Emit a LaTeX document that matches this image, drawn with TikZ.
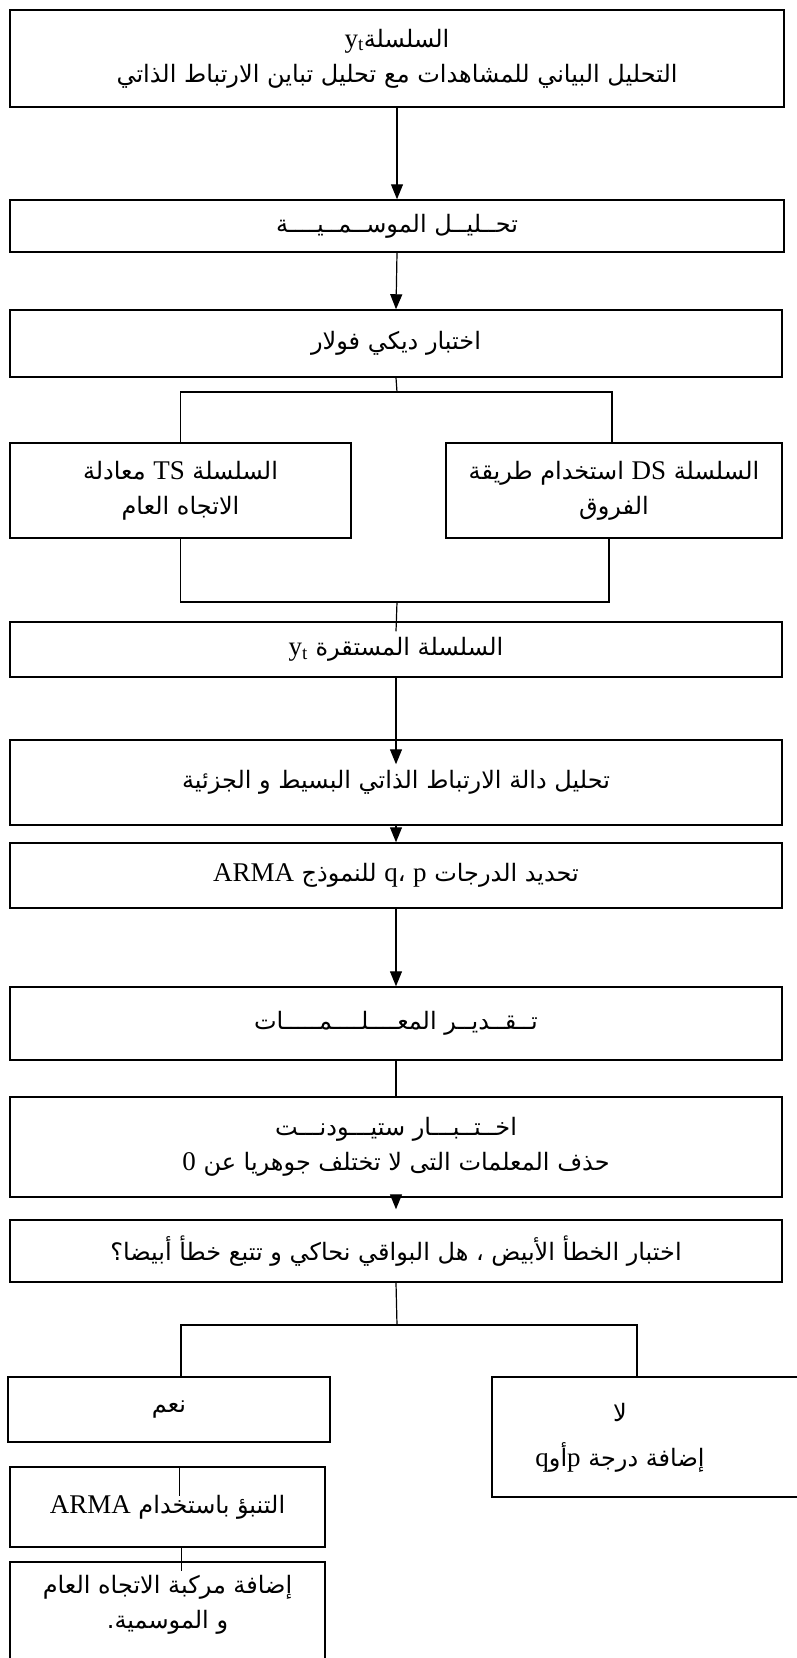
\documentclass[tikz,border=0pt]{standalone}
\usepackage{fontspec}
\setmainfont{Liberation Serif}
\newfontfamily\arabicfont[Script=Arabic]{DejaVu Sans}
\usetikzlibrary{arrows.meta}
\TeXXeTstate=1
\newcommand\ltr[1]{\beginL{\rmfamily\fontsize{27}{35}\selectfont #1}\endL}

\begin{document}
\begin{tikzpicture}[x=1pt,y=-1pt,
  box/.style={draw,line width=1.5pt,inner sep=0pt,align=center,
    font=\arabicfont\fontsize{24}{35}\selectfont},
  txt/.style={inner sep=0pt,align=center,font=\arabicfont\fontsize{24}{35}\selectfont},
  link/.style={line width=1.2pt},
  arr/.style={link,-{Triangle[length=15pt,width=12pt]}}]
  \useasboundingbox (0,0) rectangle (796,1658);
  \node[box,minimum width=774pt,minimum height=97pt] (series) at (397,58.5)
    {\beginR السلسلة\ltr{y\textsubscript{t}}\endR\\\beginR التحليل البياني للمشاهدات مع تحليل تباين الارتباط الذاتي\endR};
  \node[box,minimum width=774pt,minimum height=52pt] (season) at (397,226)
    {\beginR تحــليــل الموســمــيــــة\endR};
  \node[box,minimum width=772pt,minimum height=67pt] (dickey) at (396,343.5)
    {\beginR اختبار ديكي فولار\endR};
  \node[box,minimum width=341pt,minimum height=95pt] (ts) at (180.5,490.5)
    {\beginR السلسلة \ltr{TS} معادلة\endR\\\beginR الاتجاه العام\endR};
  \node[box,minimum width=336pt,minimum height=95pt] (ds) at (614,490.5)
    {\beginR السلسلة \ltr{DS} استخدام طريقة\endR\\\beginR الفروق\endR};
  \node[box,minimum width=772pt,minimum height=55pt] (stat) at (396,649.5)
    {\beginR السلسلة المستقرة \ltr{y\textsubscript{t}}\endR};
  \node[box,minimum width=772pt,minimum height=85pt] (acf) at (396,782.5)
    {\beginR تحليل دالة الارتباط الذاتي البسيط و الجزئية\endR};
  \node[box,minimum width=772pt,minimum height=65pt] (order) at (396,875.5)
    {\beginR تحديد الدرجات \ltr{p} ،\ltr{q} للنموذج \ltr{ARMA}\endR};
  \node[box,minimum width=772pt,minimum height=73pt] (estim) at (396,1023.5)
    {\beginR تــقــديــر المعــــلــــمـــــات\endR};
  \node[box,minimum width=772pt,minimum height=100pt] (student) at (396,1147)
    {\beginR اخــتــبـــار ستيـــودنـــت\endR\\\beginR حذف المعلمات التى لا تختلف جوهريا عن \ltr{0}\endR};
  \node[box,minimum width=772pt,minimum height=62pt] (white) at (396,1251)
    {\beginR اختبار الخطأ الأبيض ، هل البواقي نحاكي و تتبع خطأ أبيضا؟\endR};
  \node[box,minimum width=322pt,minimum height=65pt] (yes) at (169,1409.5)
    {\beginR نعم\endR};
  \node[box,minimum width=320pt,minimum height=120pt] (nobox) at (652,1437) {};
  \node[txt] (no) at (620,1438)
    {\beginR لا\endR\\[10pt]\beginR إضافة درجة \ltr{p}أو\ltr{q}\endR};
  \node[box,minimum width=315pt,minimum height=80pt] (fcst) at (167.5,1507)
    {\beginR التنبؤ باستخدام \ltr{ARMA}\endR};
  \node[box,minimum width=315pt,minimum height=120pt] (last) at (167.5,1622) {};
  \node[txt] (lasttext) at (167.5,1605)
    {\beginR إضافة مركبة الاتجاه العام\endR\\\beginR و الموسمية.\endR};
  \coordinate (split1) at (397,392);
  \coordinate (join1) at (397,602);
  \coordinate (split2) at (397,1325);
  \draw[arr] (series.south) -- (season.north);
  \draw[arr] (season.south) -- (dickey.north);
  \draw[link] (dickey.south) -- (split1);
  \draw[link] (ts.north) |- (split1) -| ([xshift=-2pt]ds.north);
  \draw[link] (ts.south) |- (join1) -| ([xshift=-5pt]ds.south);
  \draw[link] (join1) -- ([yshift=-10pt]stat.north);
  \draw[arr] (stat.south) -- ([yshift=-25pt]acf.north);
  \draw[arr] (acf.south) -- (order.north);
  \draw[arr] (order.south) -- (estim.north);
  \draw[link] (estim.south) -- (student.north);
  \draw[arr] (student.south) -- ([yshift=10pt]white.north);
  \draw[link] (white.south) -- (split2);
  \draw[link] ([xshift=12pt]yes.north) |- (split2) -| ([xshift=-15pt]nobox.north);
  \draw[link] ([xshift=12pt]fcst.north) -- ++(0,30);
  \draw[link] ([xshift=14pt]fcst.south) -- ([xshift=14pt,yshift=-10pt]last.north);
\end{tikzpicture}
\end{document}
